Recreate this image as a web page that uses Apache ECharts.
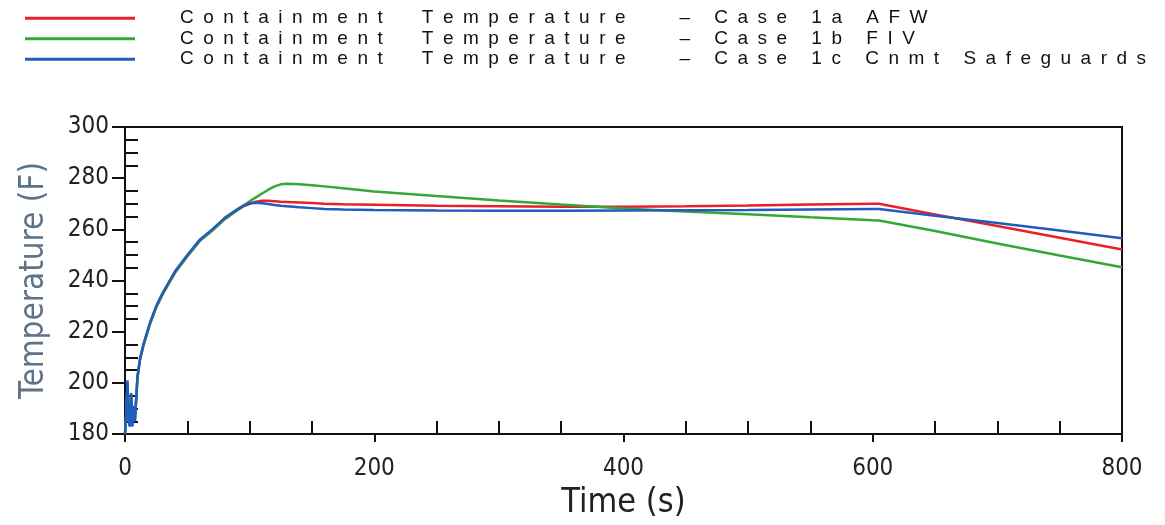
<!DOCTYPE html>
<html>
<head>
<meta charset="utf-8">
<script src="https://cdn.jsdelivr.net/npm/echarts@6/dist/echarts.min.js"></script>
<style>
html,body{margin:0;padding:0;background:#fff;}
#chart{width:1165px;height:525px;}
</style>
</head>
<body>
<div id="chart"></div>
<script>
// ---- data ----
const seriesNames = [
  "Containment  Temperature   – Case 1a AFW",
  "Containment  Temperature   – Case 1b FIV",
  "Containment  Temperature   – Case 1c Cnmt Safeguards"
];
const seriesColors = ["#e8202a", "#33a835", "#1f5cc0"];
const timeS = [0,1,2,3,4,5,6,7,8,10,12,15,20,25,30,40,50,60,70,80,90,95,100,105,110,115,120,125,130,140,150,160,175,200,250,300,350,400,450,500,550,600,605,650,700,750,800];
const tempAFW = [180,187,199,186,183,194,184,190,186,202,209,215,223,229.5,234.5,243,249.5,255.5,259.5,264,267.5,269,270,270.8,271.2,271.2,271,270.8,270.7,270.5,270.3,270,269.8,269.6,269.2,269,268.8,268.8,269,269.3,269.7,270,270,265.8,261.3,256.7,252.1];
const tempFIV = [180,188,200,186,183,195,184,190,186,202,209,215,223,229.5,234.5,243,249.5,255.5,259.5,264,267.5,269.2,271,272.5,274,275.5,276.8,277.6,277.8,277.6,277.2,276.8,276.1,274.8,273.0,271.3,269.7,268.2,267.0,265.9,264.7,263.6,263.5,259.4,254.5,249.8,245.2];
const tempCnmt = [180,188,201,185,183,196,183,191,185,202.5,209.5,215.5,223.5,230,235,243.5,250,256,260,264.5,267.8,269.3,270.2,270.4,270.2,269.9,269.5,269.2,269,268.6,268.3,268,267.8,267.6,267.4,267.3,267.3,267.4,267.5,267.6,267.8,268,268,265.3,262.5,259.6,256.5];
const xTicks = {min: 0, max: 800, step: 200};
const yTicks = {min: 180, max: 300, step: 20};

const tempSets = [tempAFW, tempFIV, tempCnmt];
const narrow = "'Liberation Sans Narrow', 'DejaVu Sans Condensed', 'Liberation Sans', sans-serif";

const chart = echarts.init(document.getElementById('chart'), null, {renderer: 'canvas'});
const axisLineStyle = {color: '#111', width: 2};

chart.setOption({
  animation: false,
  backgroundColor: '#fff',
  legend: {
    orient: 'vertical',
    left: 25,
    top: 8,
    padding: 0,
    itemGap: 0,
    itemWidth: 110,
    itemHeight: 3,
    icon: 'rect',
    selectedMode: false,
    data: seriesNames,
    formatter: n => n.split('').join('\u2002'),
    textStyle: {
      fontFamily: "'Liberation Sans', Arial, sans-serif",
      fontSize: 19,
      color: '#111',
      lineHeight: 20.5,
      padding: [0, 0, 0, 40]
    }
  },
  grid: {
    left: 125, right: 43, top: 127, bottom: 85,
    show: true, borderColor: '#111', borderWidth: 2, backgroundColor: 'transparent'
  },
  xAxis: [
    {
      type: 'value', min: xTicks.min, max: xTicks.max, interval: xTicks.step, position: 'bottom',
      axisLine: {show: true, lineStyle: axisLineStyle},
      axisTick: {show: true, length: 8, lineStyle: {color: '#111', width: 2}},
      axisLabel: {fontFamily: narrow, fontSize: 24, color: '#222', margin: 23},
      splitLine: {show: false},
      name: 'Time (s)', nameLocation: 'middle', nameGap: 45,
      nameTextStyle: {fontFamily: narrow, fontSize: 34, color: '#222'}
    },
    {
      type: 'value', min: xTicks.min, max: xTicks.max, interval: xTicks.step, position: 'bottom',
      axisLine: {show: false},
      axisTick: {show: false, inside: true},
      minorTick: {show: true, splitNumber: 4, length: 13, lineStyle: {color: '#111', width: 2}},
      axisLabel: {show: false},
      splitLine: {show: false}
    }
  ],
  yAxis: [
    {
      type: 'value', min: yTicks.min, max: yTicks.max, interval: yTicks.step, position: 'left',
      axisLine: {show: true, lineStyle: axisLineStyle},
      axisTick: {show: true, length: 13, lineStyle: {color: '#111', width: 2}},
      axisLabel: {fontFamily: narrow, fontSize: 24, color: '#222', margin: 16},
      splitLine: {show: false},
      name: 'Temperature (F)', nameLocation: 'middle', nameGap: 74,
      nameTextStyle: {fontFamily: narrow, fontSize: 33, color: '#5f7388'}
    },
    {
      type: 'value', min: yTicks.min, max: yTicks.max, interval: yTicks.step, position: 'left',
      axisLine: {show: false},
      axisTick: {show: false, inside: true},
      minorTick: {show: true, splitNumber: 4, length: 13, lineStyle: {color: '#111', width: 2}},
      axisLabel: {show: false},
      splitLine: {show: false}
    }
  ],
  series: seriesNames.map((name, i) => ({
    name: name,
    type: 'line',
    xAxisIndex: 0,
    yAxisIndex: 0,
    showSymbol: false,
    symbol: 'none',
    smooth: false,
    color: seriesColors[i],
    lineStyle: {color: seriesColors[i], width: 2.5},
    data: timeS.map((t, k) => [t, tempSets[i][k]])
  }))
});
</script>
</body>
</html>
